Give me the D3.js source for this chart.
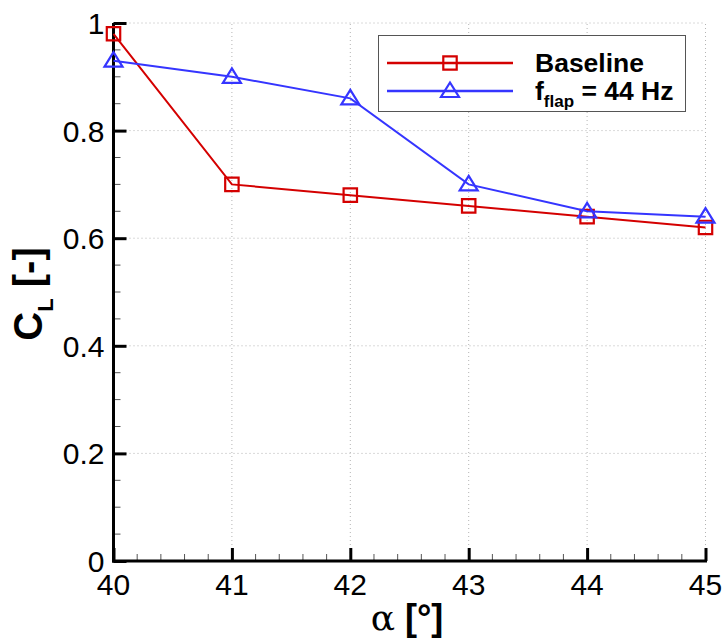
<!DOCTYPE html>
<html>
<head>
<meta charset="utf-8">
<script src="https://cdn.jsdelivr.net/npm/d3@7/dist/d3.min.js"></script>
<style>
  html, body { margin: 0; padding: 0; background: #fff; }
  svg { display: block; font-family: "Liberation Sans", Arial, sans-serif; }
</style>
</head>
<body>
<svg id="chart" width="726" height="639"></svg>
<script>
// Angle of attack (deg) and lift coefficient for each case
const alpha = [40, 41, 42, 43, 44, 45];
const baselineCL = [0.98, 0.70, 0.68, 0.66, 0.64, 0.62];
const flapCL = [0.93, 0.90, 0.86, 0.70, 0.65, 0.64];
const xTicks = [40, 41, 42, 43, 44, 45];
const yTicks = [0, 0.2, 0.4, 0.6, 0.8, 1];
const yTickLabels = ["0", "0.2", "0.4", "0.6", "0.8", "1"];

const red = "#d40000";
const blue = "#3535ff";

const svg = d3.select("#chart");
const plotLeft = 113.5, plotRight = 705.5, plotTop = 23, plotBottom = 561;

const x = d3.scaleLinear().domain([40, 45]).range([plotLeft, plotRight]);
const y = d3.scaleLinear().domain([0, 1]).range([plotBottom, plotTop]);

// dotted grid at major ticks
const grid = svg.append("g");
grid.selectAll("line.gx").data(xTicks.slice(1)).join("line")
  .attr("x1", d => x(d)).attr("x2", d => x(d))
  .attr("y1", plotBottom).attr("y2", plotTop)
  .attr("stroke", "#b4b4b4").attr("stroke-width", 1).attr("stroke-dasharray", "1,3");
grid.selectAll("line.gy").data(yTicks.slice(1)).join("line")
  .attr("x1", plotLeft).attr("x2", plotRight)
  .attr("y1", d => y(d)).attr("y2", d => y(d))
  .attr("stroke", "#b4b4b4").attr("stroke-width", 1).attr("stroke-dasharray", "1,3");

// minor ticks
const xMinor = d3.range(40, 45.001, 0.2).filter(v => Math.abs(v - Math.round(v)) > 1e-6);
const yMinor = d3.range(0, 1.001, 0.05).filter(v => Math.abs(v * 5 - Math.round(v * 5)) > 1e-6);
svg.append("g").selectAll("line").data(xMinor).join("line")
  .attr("x1", d => x(d)).attr("x2", d => x(d))
  .attr("y1", plotBottom).attr("y2", plotBottom - 7)
  .attr("stroke", "#555").attr("stroke-width", 1);
svg.append("g").selectAll("line").data(yMinor).join("line")
  .attr("x1", plotLeft).attr("x2", plotLeft + 7)
  .attr("y1", d => y(d)).attr("y2", d => y(d))
  .attr("stroke", "#555").attr("stroke-width", 1);

// axes with inward major ticks
const xAxis = d3.axisTop(x).tickValues(xTicks).tickSize(13).tickFormat("");
const yAxis = d3.axisRight(y).tickValues(yTicks).tickSize(13).tickFormat("");
const gx = svg.append("g").attr("transform", `translate(0,${plotBottom})`).call(xAxis);
const gy = svg.append("g").attr("transform", `translate(${plotLeft},0)`).call(yAxis);
[gx, gy].forEach(g => {
  g.select(".domain").attr("stroke", "#000").attr("stroke-width", 3);
  g.selectAll(".tick line").attr("stroke", "#000").attr("stroke-width", 3);
});
gx.select(".domain").attr("d", `M${plotLeft - 1.5},0H${plotRight + 1.5}`);
gy.select(".domain").attr("d", `M0,${plotBottom + 1.5}V${plotTop}`);

// tick labels
svg.append("g").selectAll("text").data(xTicks).join("text")
  .attr("x", d => x(d)).attr("y", 595)
  .attr("text-anchor", "middle").attr("font-size", 30)
  .text(d => d);
svg.append("g").selectAll("text").data(yTicks).join("text")
  .attr("x", plotLeft - 9).attr("y", d => y(d) + 11)
  .attr("text-anchor", "end").attr("font-size", 30)
  .text((d, i) => yTickLabels[i]);

// axis titles
const xt = svg.append("text").attr("x", 407).attr("y", 630)
  .attr("text-anchor", "middle").attr("font-size", 36);
xt.append("tspan").attr("font-family", "'DejaVu Serif', 'Liberation Serif', serif").text("α");
xt.append("tspan").attr("font-weight", "bold").text(" [°]");

const yt = svg.append("text").attr("transform", "translate(42,294) rotate(-90)")
  .attr("text-anchor", "middle").attr("font-size", 40).attr("font-weight", "bold");
yt.append("tspan").text("C");
yt.append("tspan").attr("font-size", 22).attr("dy", 11).text("L");
yt.append("tspan").attr("dy", -11).text(" [-]");

// series
const line = d3.line().x((d, i) => x(alpha[i])).y(d => y(d));
const series = [
  { name: "Baseline", values: baselineCL, color: red, marker: "square" },
  { name: "flap", values: flapCL, color: blue, marker: "triangle" }
];
const sq = d3.symbol().type(d3.symbolSquare).size(180)();
const tri = "M0,-8.5L9,6L-9,6Z";
function marker(g, type, color) {
  g.append("path").attr("d", type === "square" ? sq : tri)
    .attr("fill", "none").attr("stroke", color).attr("stroke-width", 2.2);
}
series.forEach(s => {
  svg.append("path").datum(s.values).attr("d", line)
    .attr("fill", "none").attr("stroke", s.color).attr("stroke-width", 2);
  s.values.forEach((v, i) => {
    const g = svg.append("g").attr("transform", `translate(${x(alpha[i])},${y(v)})`);
    marker(g, s.marker, s.color);
  });
});

// legend
const lg = svg.append("g");
lg.append("rect").attr("x", 378.5).attr("y", 35.5).attr("width", 307).attr("height", 76)
  .attr("fill", "#fff").attr("stroke", "#555").attr("stroke-width", 1);
const rows = [
  { y: 63, color: red, marker: "square" },
  { y: 91, color: blue, marker: "triangle" }
];
rows.forEach(r => {
  lg.append("line").attr("x1", 387).attr("x2", 513).attr("y1", r.y).attr("y2", r.y)
    .attr("stroke", r.color).attr("stroke-width", 2.5);
  const g = lg.append("g").attr("transform", `translate(450,${r.y})`);
  marker(g, r.marker, r.color);
});
lg.append("text").attr("x", 535).attr("y", 72).attr("font-size", 26.5).attr("font-weight", "bold").text("Baseline");
const t2 = lg.append("text").attr("x", 535).attr("y", 100).attr("font-size", 26.5).attr("font-weight", "bold");
t2.append("tspan").text("f");
t2.append("tspan").attr("font-size", 17).attr("dy", 7).text("flap");
t2.append("tspan").attr("dy", -7).text(" = 44 Hz");
</script>
</body>
</html>
